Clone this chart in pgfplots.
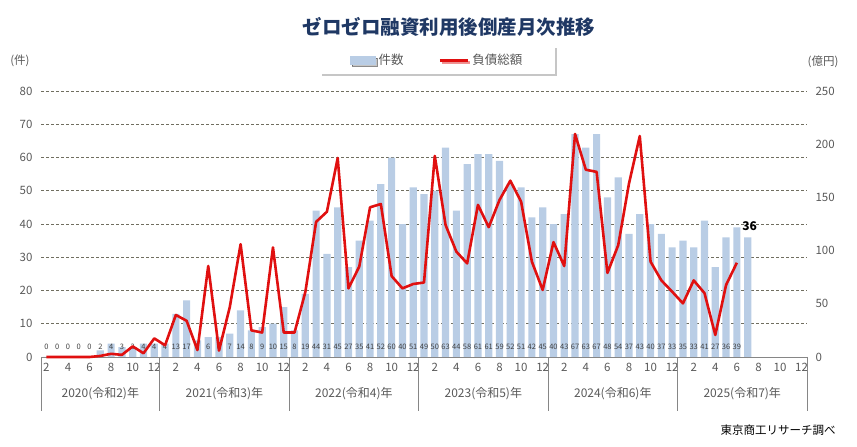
\documentclass[border=0pt]{standalone}
\usepackage{fontspec}
\setmainfont{Noto Sans CJK JP}
\usepackage{pgfplots}
\usepackage{pgfplotstable}
\pgfplotsset{compat=1.18}
\usetikzlibrary{shadows}
\definecolor{barblue}{RGB}{185,205,229}
\definecolor{linered}{RGB}{224,16,16}
\definecolor{gridc}{RGB}{112,110,96}
\definecolor{txtgray}{RGB}{89,89,89}
\definecolor{lblgray}{RGB}{64,64,64}
\definecolor{titleblue}{RGB}{31,56,100}
\definecolor{axgray}{RGB}{134,134,134}

\pgfplotstableread{
x n d
0 0 0
1 0 0
2 0 0
3 0 0
4 0 0
5 2 1
6 4 3
7 3 2
8 3 10
9 4 3.5
10 4 17.5
11 4 11
12 13 39.5
13 17 34
14 5 6.5
15 6 85.5
16 6 6
17 7 47
18 14 106
19 8 25
20 9 23
21 10 103
22 15 23
23 8 23
24 19 61
25 44 127
26 31 136.5
27 45 187
28 27 64.5
29 35 85
30 41 140.7
31 52 143.8
32 60 76
33 40 64.5
34 51 68.6
35 49 70
36 50 189
37 63 124
38 44 99
39 58 88
40 61 143
41 61 122
42 59 147.6
43 52 165.7
44 51 146
45 42 89.6
46 45 63
47 40 108
48 43 85.5
49 67 209.6
50 63 176
51 67 174
52 48 79
53 54 105
54 37 163
55 43 207.7
56 40 89.6
57 37 72
58 33 61.4
59 35 50.4
60 33 72
61 41 60
62 27 20.7
63 36 67.7
64 39 88.6
65 36 nan
}\data

\begin{document}
\begin{tikzpicture}
\path[use as bounding box] (0,0) rectangle (857pt,447pt);
\pgfplotsset{
  base/.style={
    scale only axis, width=766pt, height=266pt,
    at={(41pt,90pt)}, anchor=south west,
    xmin=-0.5, xmax=70.5, clip=false,
    axis line style={draw=none},
    major tick length=0pt,
    tick style={draw=none},
    /pgf/number format/assume math mode=true,
  }
}
\begin{axis}[base,
  ymin=0, ymax=80, ytick={0,10,...,80},
  ymajorgrids, grid style={densely dashed, gridc, line width=0.6pt},
  yticklabel style={font=\fontsize{11.5}{12}\selectfont, text=txtgray, xshift=-5pt},
  xtick={0,2,...,70},
  xticklabels={2,4,6,8,10,12,2,4,6,8,10,12,2,4,6,8,10,12,2,4,6,8,10,12,2,4,6,8,10,12,2,4,6,8,10,12},
  xticklabel style={font=\fontsize{11.5}{12}\selectfont, text=txtgray, yshift=-3pt},
]
\addplot[ybar, bar width=7.2pt, fill=barblue, draw=none] table[x=x, y=n] {\data};
\addplot[draw=none, mark=none, nodes near coords, point meta=explicit symbolic,
  skip coords between index={65}{66},
  every node near coord/.append style={font=\fontsize{7.5}{7.5}\selectfont, text=lblgray, inner sep=0pt, yshift=7pt}]
  table[x=x, y expr=0, meta=n] {\data};
\addplot[draw=none, mark=none, nodes near coords, point meta=explicit symbolic,
  skip coords between index={0}{65},
  every node near coord/.append style={font=\fontsize{12}{12}\selectfont\bfseries, text=black, inner sep=0pt, yshift=6pt, xshift=2pt}]
  table[x=x, y=n, meta=n] {\data};
\draw[axgray, line width=0.7pt] (axis cs:-0.5,0) -- (axis cs:70.5,0);
\pgfplotsinvokeforeach{-0.5,10.5,22.5,34.5,46.5,58.5,70.5}{
  \draw[axgray, line width=0.7pt] (axis cs:#1,0) -- ([yshift=-54pt]axis cs:#1,0);
}
\node[font=\fontsize{12}{13}\selectfont, text=txtgray] at ([yshift=-37pt]axis cs:5,0) {2020(令和2)年};
\node[font=\fontsize{12}{13}\selectfont, text=txtgray] at ([yshift=-37pt]axis cs:16.5,0) {2021(令和3)年};
\node[font=\fontsize{12}{13}\selectfont, text=txtgray] at ([yshift=-37pt]axis cs:28.5,0) {2022(令和4)年};
\node[font=\fontsize{12}{13}\selectfont, text=txtgray] at ([yshift=-37pt]axis cs:40.5,0) {2023(令和5)年};
\node[font=\fontsize{12}{13}\selectfont, text=txtgray] at ([yshift=-37pt]axis cs:52.5,0) {2024(令和6)年};
\node[font=\fontsize{12}{13}\selectfont, text=txtgray] at ([yshift=-37pt]axis cs:64.5,0) {2025(令和7)年};
\end{axis}
\begin{axis}[base,
  ymin=0, ymax=250, ytick={0,50,...,250},
  axis y line*=right, hide x axis,
  yticklabel style={font=\fontsize{11.5}{12}\selectfont, text=txtgray, xshift=5pt},
  legend columns=2,
  legend style={at={(0.518,1.115)}, anchor=center, draw=none, fill=white,
    drop shadow={shadow xshift=2pt, shadow yshift=-2pt, opacity=0.45},
    inner xsep=30pt, inner ysep=6pt,
    font=\fontsize{12.5}{14}\selectfont, text=txtgray,
    /tikz/every even column/.append style={column sep=32pt},
    nodes={inner xsep=3pt}},
]
\addlegendimage{legend image code/.code={\fill[barblue] (0pt,-4pt) rectangle (25pt,4pt);}}
\addlegendentry{件数}
\addplot[linered, line width=2.6pt, line join=round, mark=none,
  legend image code/.code={\draw[linered, line width=2.6pt] (0pt,0pt) -- (28pt,0pt);}]
  table[x=x, y=d] {\data};
\addlegendentry{負債総額}
\end{axis}
\node[font=\fontsize{19.5}{22}\selectfont\bfseries, text=titleblue] at (449pt,420pt) {ゼロゼロ融資利用後倒産月次推移};
\node[font=\fontsize{11.5}{12}\selectfont, text=txtgray] at (20pt,386pt) {(件)};
\node[font=\fontsize{11.5}{12}\selectfont, text=txtgray] at (823pt,385pt) {(億円)};
\node[font=\fontsize{11.5}{12}\selectfont, text=black] at (778pt,17pt) {東京商工リサーチ調べ};
\end{tikzpicture}
\end{document}
